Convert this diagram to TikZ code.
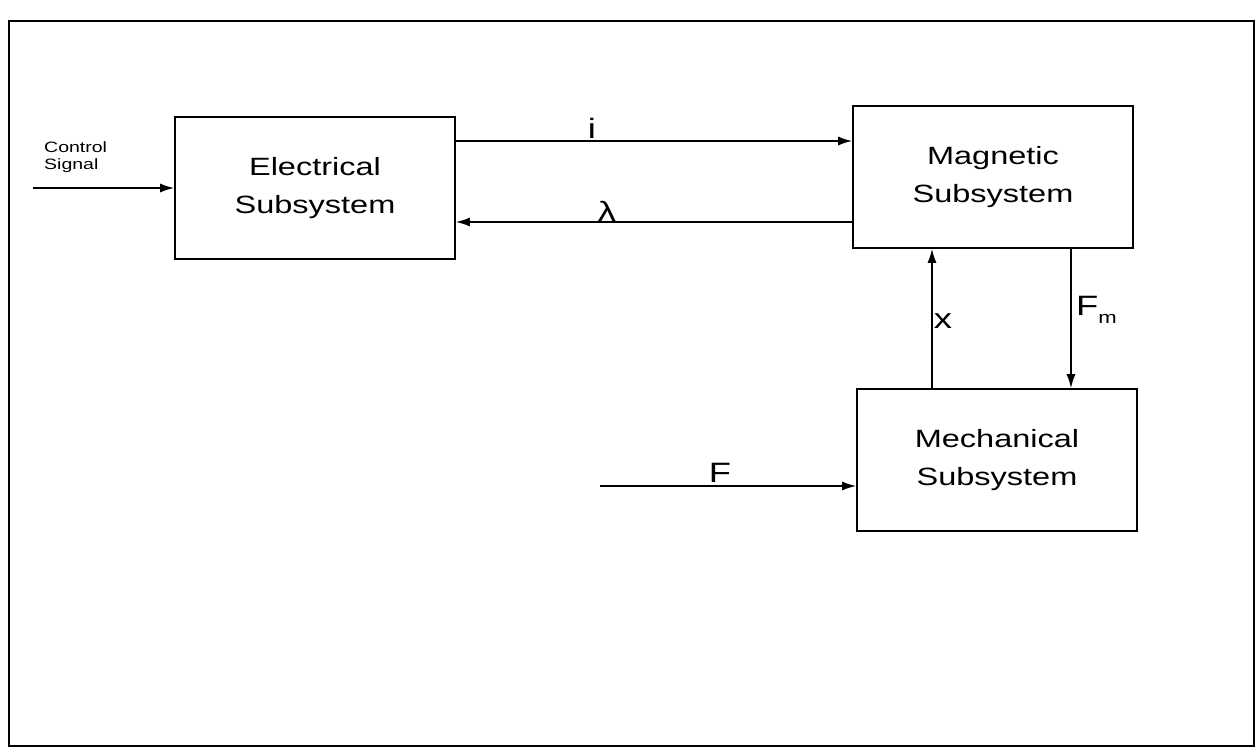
\documentclass[tikz,border=0pt]{standalone}
\usepackage{fontspec}
\setmainfont{Liberation Sans}[FakeStretch=1.3]
\usetikzlibrary{arrows.meta,positioning,calc}

\begin{document}
\begin{tikzpicture}[
    x=1pt,y=-1pt,
    >={Latex[length=14pt,width=9pt]},
    every node/.style={inner sep=0pt},
    subsys/.style={rectangle,draw,line width=1.6pt,
                   minimum width=280pt,minimum height=142pt,
                   align=center,font=\fontsize{25}{38}\selectfont},
    sig/.style={->,line width=1.6pt},
    lbl/.style={anchor=base,font=\fontsize{28}{28}\selectfont}
  ]
  \useasboundingbox (0,0) rectangle (1259,755);
  %% Outer frame
  \draw[line width=2.5pt] (9,21) rectangle (1254,746);
  %% Three subsystem blocks
  \node[subsys] (elec) at (315,188) {Electrical\\Subsystem};
  \node[subsys] (mag)  at (993,177) {Magnetic\\Subsystem};
  \node[subsys] (mech) at (997,460) {Mechanical\\Subsystem};
  %% Inputs
  \node[anchor=west,align=left,font=\fontsize{15}{17}\selectfont] (ctrl) at (44,157) {Control\\Signal};
  \coordinate (cin) at (33,188);
  \draw[sig] (cin) -- (cin -| elec.west);
  \coordinate (fin) at (600,486);
  \draw[sig] (fin) -- (fin -| mech.west);
  \node[lbl] (flbl) at (720,482) {F};
  %% Electrical <-> magnetic
  \draw[sig] ([yshift=47pt]elec.east) coordinate (iout) -- (iout -| mag.west);
  \node[lbl] (ilbl) at (592,138) {i};
  \draw[sig] ([yshift=-45pt]mag.west) coordinate (lout) -- (lout -| elec.east);
  \node[lbl] (llbl) at (607,221) {λ};
  %% Magnetic <-> mechanical
  \draw[sig] ([xshift=-65pt]mech.north) coordinate (xout) -- (xout |- mag.south);
  \node[lbl] (xlbl) at (943,328) {x};
  \draw[sig] ([xshift=78pt]mag.south) coordinate (fmout) -- (fmout |- mech.north);
  \node[lbl,anchor=base west] (fmlbl) at (1076,315)
    {F\raisebox{-8pt}{\fontsize{17}{17}\selectfont m}};
\end{tikzpicture}
\end{document}
